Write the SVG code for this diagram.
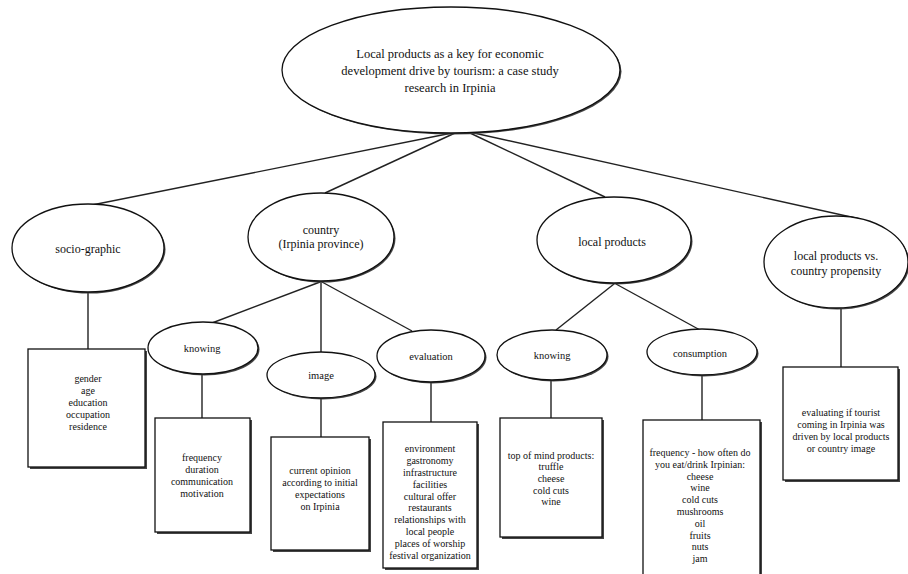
<svg xmlns="http://www.w3.org/2000/svg" width="908" height="574" viewBox="0 0 908 574">
<style>
.sh{fill:#444;stroke:none}
.nd{fill:#fff;stroke:#111;stroke-width:1.3}
.cn line{stroke:#222;stroke-width:1.4}
text{font-family:"Liberation Serif","Times New Roman",serif;fill:#111;text-anchor:middle;dominant-baseline:central}
.t0{font-size:12.5px}
.t1{font-size:12px}
.t2{font-size:10.5px}
.t3{font-size:10px}
</style>
<rect width="908" height="574" fill="#fff"/>
<g id="connectors" class="cn">
<line x1="452" y1="133" x2="92" y2="205"/>
<line x1="455" y1="133" x2="325" y2="193"/>
<line x1="470" y1="133" x2="605" y2="197"/>
<line x1="474" y1="133" x2="860" y2="219"/>
<line x1="88" y1="292" x2="88" y2="349"/>
<line x1="320" y1="282" x2="212" y2="323"/>
<line x1="321" y1="282" x2="321" y2="352"/>
<line x1="322" y1="282" x2="412" y2="331"/>
<line x1="614" y1="284" x2="556" y2="330"/>
<line x1="616" y1="284" x2="700" y2="330"/>
<line x1="841" y1="308" x2="841" y2="367"/>
<line x1="202" y1="374" x2="202" y2="418"/>
<line x1="321" y1="398" x2="321" y2="437"/>
<line x1="431" y1="382" x2="431" y2="422"/>
<line x1="551" y1="380" x2="551" y2="418"/>
<line x1="702" y1="375" x2="702" y2="420"/>
</g>
<g id="n-root">
<ellipse class="sh" cx="452.5" cy="71.5" rx="169" ry="63"/>
<ellipse class="nd" cx="451" cy="70" rx="169" ry="63"/>
<text class="t0" x="450" y="54">Local products as a key for economic</text>
<text class="t0" x="450" y="71">development drive by tourism: a case study</text>
<text class="t0" x="450" y="88">research in Irpinia</text>
</g>
<g id="n-socio">
<ellipse class="sh" cx="89.5" cy="249.5" rx="76" ry="44"/>
<ellipse class="nd" cx="88" cy="248" rx="76" ry="44"/>
<text class="t1" x="88" y="249">socio-graphic</text>
</g>
<g id="n-country">
<ellipse class="sh" cx="322.5" cy="238.5" rx="73" ry="44"/>
<ellipse class="nd" cx="321" cy="237" rx="73" ry="44"/>
<text class="t1" x="321" y="230">country</text>
<text class="t1" x="321" y="244">(Irpinia province)</text>
</g>
<g id="n-local">
<ellipse class="sh" cx="615.5" cy="241.5" rx="77" ry="43"/>
<ellipse class="nd" cx="614" cy="240" rx="77" ry="43"/>
<text class="t1" x="612" y="242">local products</text>
</g>
<g id="n-vs">
<ellipse class="sh" cx="837.5" cy="263.5" rx="72" ry="46"/>
<ellipse class="nd" cx="836" cy="262" rx="72" ry="46"/>
<text class="t1" x="836" y="256">local products vs.</text>
<text class="t1" x="836" y="271">country propensity</text>
</g>
<g id="n-socio-box">
<rect class="sh" x="30" y="351" width="117" height="118"/>
<rect class="nd" x="28" y="349" width="117" height="118"/>
<text class="t3" x="88" y="378">gender</text>
<text class="t3" x="88" y="390">age</text>
<text class="t3" x="88" y="402">education</text>
<text class="t3" x="88" y="414">occupation</text>
<text class="t3" x="88" y="426">residence</text>
</g>
<g id="n-knowing1">
<ellipse class="sh" cx="204.5" cy="349.5" rx="55" ry="26"/>
<ellipse class="nd" cx="203" cy="348" rx="55" ry="26"/>
<text class="t2" x="202" y="348">knowing</text>
</g>
<g id="n-knowing1-box">
<rect class="sh" x="157" y="420" width="95" height="114"/>
<rect class="nd" x="155" y="418" width="95" height="114"/>
<text class="t3" x="202" y="457">frequency</text>
<text class="t3" x="202" y="469">duration</text>
<text class="t3" x="202" y="481">communication</text>
<text class="t3" x="202" y="493">motivation</text>
</g>
<g id="n-image">
<ellipse class="sh" cx="322.5" cy="376.5" rx="54" ry="23"/>
<ellipse class="nd" cx="321" cy="375" rx="54" ry="23"/>
<text class="t2" x="321" y="375">image</text>
</g>
<g id="n-image-box">
<rect class="sh" x="273" y="439" width="98" height="113"/>
<rect class="nd" x="271" y="437" width="98" height="113"/>
<text class="t3" x="320" y="470">current opinion</text>
<text class="t3" x="320" y="482">according to initial</text>
<text class="t3" x="320" y="494">expectations</text>
<text class="t3" x="320" y="506">on Irpinia</text>
</g>
<g id="n-evaluation">
<ellipse class="sh" cx="432.5" cy="357.5" rx="54" ry="26"/>
<ellipse class="nd" cx="431" cy="356" rx="54" ry="26"/>
<text class="t2" x="431" y="356">evaluation</text>
</g>
<g id="n-evaluation-box">
<rect class="sh" x="385" y="424" width="94" height="146"/>
<rect class="nd" x="383" y="422" width="94" height="146"/>
<text class="t3" x="430" y="448">environment</text>
<text class="t3" x="430" y="460">gastronomy</text>
<text class="t3" x="430" y="472">infrastructure</text>
<text class="t3" x="430" y="484">facilities</text>
<text class="t3" x="430" y="496">cultural offer</text>
<text class="t3" x="430" y="507">restaurants</text>
<text class="t3" x="430" y="519">relationships with</text>
<text class="t3" x="430" y="531">local people</text>
<text class="t3" x="430" y="543">places of worship</text>
<text class="t3" x="430" y="555">festival organization</text>
</g>
<g id="n-knowing2">
<ellipse class="sh" cx="553.5" cy="356.5" rx="55" ry="25"/>
<ellipse class="nd" cx="552" cy="355" rx="55" ry="25"/>
<text class="t2" x="552" y="355">knowing</text>
</g>
<g id="n-knowing2-box">
<rect class="sh" x="502" y="420" width="102" height="119"/>
<rect class="nd" x="500" y="418" width="102" height="119"/>
<text class="t3" x="551" y="455">top of mind products:</text>
<text class="t3" x="551" y="466">truffle</text>
<text class="t3" x="551" y="478">cheese</text>
<text class="t3" x="551" y="490">cold cuts</text>
<text class="t3" x="551" y="501">wine</text>
</g>
<g id="n-consumption">
<ellipse class="sh" cx="703.5" cy="353.5" rx="55" ry="23"/>
<ellipse class="nd" cx="702" cy="352" rx="55" ry="23"/>
<text class="t2" x="700" y="353">consumption</text>
</g>
<g id="n-consumption-box">
<rect class="sh" x="645" y="422" width="117" height="160"/>
<rect class="nd" x="643" y="420" width="117" height="160"/>
<text class="t3" x="700" y="452">frequency - how often do</text>
<text class="t3" x="700" y="464">you eat/drink Irpinian:</text>
<text class="t3" x="700" y="476">cheese</text>
<text class="t3" x="700" y="487">wine</text>
<text class="t3" x="700" y="499">cold cuts</text>
<text class="t3" x="700" y="511">mushrooms</text>
<text class="t3" x="700" y="523">oil</text>
<text class="t3" x="700" y="535">fruits</text>
<text class="t3" x="700" y="546">nuts</text>
<text class="t3" x="700" y="558">jam</text>
</g>
<g id="n-vs-box">
<rect class="sh" x="785" y="369" width="115" height="113"/>
<rect class="nd" x="783" y="367" width="115" height="113"/>
<text class="t3" x="841" y="412">evaluating if tourist</text>
<text class="t3" x="841" y="424">coming in Irpinia was</text>
<text class="t3" x="841" y="436">driven by local products</text>
<text class="t3" x="841" y="448">or country image</text>
</g>
</svg>
